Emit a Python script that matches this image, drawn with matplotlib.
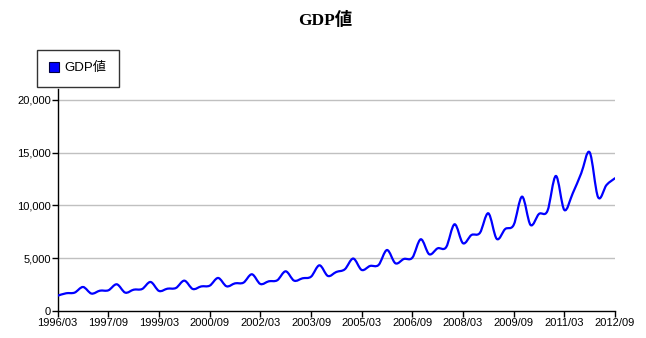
import numpy as np
import matplotlib.pyplot as plt
from matplotlib.path import Path
from matplotlib.patches import PathPatch
from matplotlib.lines import Line2D

# quarterly GDP, 1996/03 .. 2012/09
QUARTERS = [f"{y}/{m:02d}" for y in range(1996, 2013) for m in (3, 6, 9, 12)][:67]
GDP = [
    1450, 1680, 1740, 2275, 1650, 1925, 1960, 2530,
    1740, 2020, 2085, 2750, 1900, 2115, 2180, 2875,
    2085, 2330, 2400, 3130, 2340, 2620, 2685, 3480,
    2560, 2815, 2910, 3760, 2875, 3100, 3250, 4330,
    3320, 3700, 3950, 4970, 3890, 4270, 4360, 5780,
    4520, 4930, 5050, 6800, 5375, 5940, 6040, 8220,
    6420, 7200, 7400, 9260, 6830, 7770, 8150, 10840,
    8150, 9200, 9480, 12800, 9575, 11160, 13050, 15040,
    10780, 11945, 12580,
]
TICK_STEP = 6
Y_TICKS = [0, 5000, 10000, 15000, 20000]

LINE_COLOR = "#0000ff"
SANS = ["Liberation Sans", "Noto Sans CJK JP"]
SERIF = ["Liberation Serif", "Noto Sans CJK JP"]


def smooth_path(xs, ys):
    # Catmull-Rom spline written as cubic bezier segments
    xs = np.asarray(xs, float)
    ys = np.asarray(ys, float)
    px = np.concatenate([[xs[0]], xs, [xs[-1]]])
    py = np.concatenate([[ys[0]], ys, [ys[-1]]])
    verts = [(xs[0], ys[0])]
    codes = [Path.MOVETO]
    for i in range(1, len(px) - 2):
        c1 = (px[i] + (px[i + 1] - px[i - 1]) / 6,
              py[i] + (py[i + 1] - py[i - 1]) / 6)
        c2 = (px[i + 1] - (px[i + 2] - px[i]) / 6,
              py[i + 1] - (py[i + 2] - py[i]) / 6)
        verts += [c1, c2, (px[i + 1], py[i + 1])]
        codes += [Path.CURVE4] * 3
    return Path(verts, codes)


fig = plt.figure(figsize=(6.46, 3.38), dpi=100)
ax = fig.add_axes([0.0893, 0.0799, 0.8627, 0.6556])

x = np.arange(len(GDP))
ax.add_patch(PathPatch(smooth_path(x, GDP), facecolor="none",
                       edgecolor=LINE_COLOR, linewidth=1.6,
                       capstyle="round", joinstyle="round", zorder=3))

ax.set_xlim(0, len(GDP) - 1)
ax.set_ylim(0, 21000)
ax.set_xticks(x[::TICK_STEP])
ax.set_xticklabels(QUARTERS[::TICK_STEP], family=SANS, fontsize=8)
ax.set_yticks(Y_TICKS)
ax.set_yticklabels([f"{v:,}" for v in Y_TICKS], family=SANS, fontsize=8)
ax.tick_params(axis="both", direction="out", length=4, width=1,
               color="black", pad=1)

for v in Y_TICKS[1:]:
    ax.axhline(v, color="#c0c0c0", linewidth=1, zorder=1)

for side in ("top", "right"):
    ax.spines[side].set_visible(False)
for side in ("left", "bottom"):
    ax.spines[side].set_color("black")
    ax.spines[side].set_linewidth(1)

fig.text(0.503, 0.938, "GDP値", ha="center", va="center",
         family=SERIF, fontsize=12.5, fontweight="bold")

handle = Line2D([], [], linestyle="none", marker="s", markersize=7,
                markerfacecolor=LINE_COLOR, markeredgecolor="#000040",
                markeredgewidth=0.8)
leg = fig.legend([handle], ["GDP値"], loc="upper left",
                 bbox_to_anchor=(36.5 / 646, 1 - 49.5 / 338),
                 prop={"family": SANS, "size": 9.5},
                 frameon=True, fancybox=False, handlelength=0.7,
                 handletextpad=0.45, borderpad=0.95, borderaxespad=0)
leg.get_frame().set_edgecolor("black")
leg.get_frame().set_linewidth(1)

fig.savefig("out.png", dpi=100)
